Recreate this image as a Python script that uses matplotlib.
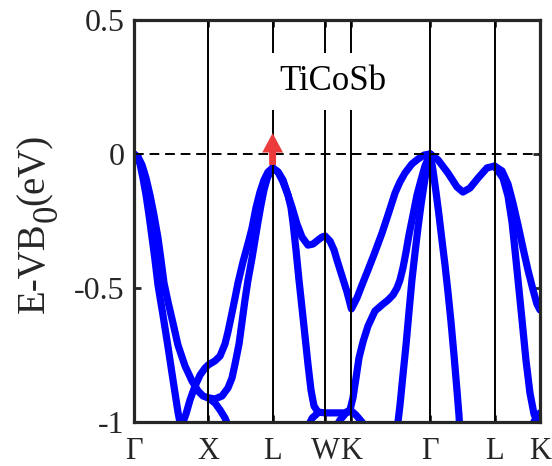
import matplotlib
matplotlib.use("Agg")
import matplotlib.pyplot as plt

plt.rcParams['font.family'] = ['Liberation Serif', 'DejaVu Serif']

# High-symmetry points along the fcc path (path length in units of 2*pi/a)
sym_k = [0.0, 1.0, 1.866, 2.573, 2.927, 3.988, 4.854, 5.466]
sym_labels = ['Γ', 'X', 'L', 'W', 'K', 'Γ', 'L', 'K']

y_ticks = [-1, -0.5, 0, 0.5]
y_ticklabels = ['-1', '-0.5', '0', '0.5']

# Valence bands, energies relative to the VB maximum (eV)
band_a_k = [0, 0.040, 0.081, 0.121, 0.162, 0.202, 0.242, 0.283, 0.323, 0.390,
            0.458, 0.525, 0.592, 0.633, 0.700, 0.754, 0.821, 0.889, 0.956, 1.0,
            1.090, 1.158, 1.225, 1.265, 1.319, 1.360, 1.400, 1.467, 1.548, 1.589,
            1.642, 1.696, 1.750, 1.804, 1.866]
band_a_e = [0, -0.011, -0.037, -0.090, -0.153, -0.228, -0.310, -0.396, -0.489, -0.601,
            -0.720, -0.843, -0.963, -1.022, -0.970, -0.918, -0.866, -0.825, -0.799, -0.787,
            -0.772, -0.754, -0.709, -0.664, -0.593, -0.537, -0.481, -0.403, -0.321, -0.276,
            -0.201, -0.142, -0.097, -0.067, -0.052]

band_b_k = [0, 0.054, 0.108, 0.162, 0.215, 0.269, 0.323, 0.364, 0.404, 0.458,
            0.525, 0.592, 0.687, 0.781, 0.862, 0.929, 1.0, 1.090, 1.185, 1.265,
            1.319, 1.360, 1.414, 1.454, 1.494, 1.535, 1.589, 1.629, 1.669, 1.710,
            1.750, 1.791, 1.831, 1.866]
band_b_e = [0, -0.011, -0.041, -0.090, -0.153, -0.228, -0.313, -0.396, -0.481, -0.552,
            -0.631, -0.713, -0.791, -0.847, -0.884, -0.903, -0.910, -0.914, -0.903, -0.873,
            -0.836, -0.784, -0.709, -0.627, -0.545, -0.470, -0.388, -0.321, -0.254, -0.190,
            -0.134, -0.093, -0.067, -0.052]

band_c_k = [1.0, 1.090, 1.158, 1.225, 1.292]
band_c_e = [-0.910, -0.929, -0.955, -0.985, -1.03]

band_d_k = [1.866, 1.939, 2.006, 2.060, 2.127, 2.194, 2.262, 2.342, 2.410, 2.477,
            2.531, 2.573, 2.639, 2.693, 2.733, 2.800, 2.868, 2.927, 3.002, 3.069,
            3.150, 3.244, 3.339, 3.433, 3.514, 3.581, 3.648, 3.742, 3.823, 3.904,
            3.988, 4.093, 4.227, 4.348, 4.429, 4.523, 4.631, 4.752, 4.854, 4.954,
            5.035, 5.102, 5.170, 5.237, 5.304, 5.372, 5.425, 5.466]
band_d_e = [-0.052, -0.067, -0.097, -0.142, -0.198, -0.261, -0.310, -0.340, -0.336, -0.321,
            -0.310, -0.306, -0.325, -0.358, -0.396, -0.455, -0.515, -0.578, -0.537, -0.489,
            -0.433, -0.366, -0.295, -0.216, -0.146, -0.104, -0.071, -0.037, -0.019, -0.004,
            0.0, -0.022, -0.071, -0.123, -0.142, -0.127, -0.090, -0.052, -0.045, -0.063,
            -0.112, -0.183, -0.265, -0.351, -0.433, -0.507, -0.560, -0.582]

band_e_k = [1.866, 1.939, 2.006, 2.073, 2.114, 2.141, 2.181, 2.221, 2.262, 2.302,
            2.342, 2.383, 2.423, 2.477, 2.573, 2.706, 2.841, 2.908, 2.948, 2.989,
            3.029, 3.083, 3.150, 3.244, 3.339, 3.420, 3.487, 3.541, 3.581, 3.621,
            3.662, 3.702, 3.756, 3.810, 3.864, 3.917, 3.988]
band_e_e = [-0.052, -0.067, -0.104, -0.153, -0.201, -0.257, -0.358, -0.470, -0.575, -0.679,
            -0.784, -0.881, -0.940, -0.963, -0.966, -0.966, -0.966, -0.955, -0.910, -0.836,
            -0.761, -0.701, -0.642, -0.586, -0.563, -0.545, -0.526, -0.500, -0.470, -0.425,
            -0.366, -0.302, -0.228, -0.153, -0.097, -0.045, 0.0]

band_f_k = [3.541, 3.554, 3.581, 3.621, 3.662, 3.702, 3.742, 3.783, 3.823, 3.864,
            3.904, 3.944, 3.988]
band_f_e = [-1.037, -1.0, -0.937, -0.825, -0.713, -0.590, -0.470, -0.369, -0.276, -0.190,
            -0.116, -0.049, 0.0]

band_g_k = [3.988, 4.025, 4.066, 4.106, 4.146, 4.187, 4.227, 4.268, 4.308, 4.348,
            4.375, 4.389]
band_g_e = [0.0, -0.060, -0.142, -0.228, -0.321, -0.414, -0.515, -0.627, -0.750, -0.881,
            -0.974, -1.037]

band_h_k = [4.854, 4.968, 5.035, 5.089, 5.129, 5.170, 5.224, 5.277, 5.331, 5.385,
            5.439, 5.466]
band_h_e = [-0.045, -0.090, -0.157, -0.254, -0.358, -0.470, -0.619, -0.769, -0.892, -0.970,
            -1.007, -1.022]

band_i_k = [5.318, 5.398, 5.466]
band_i_e = [-1.03, -0.993, -0.966]

band_j_k = [2.316, 2.400, 2.477]
band_j_e = [-1.03, -0.985, -0.966]

band_l_k = [2.693, 2.773, 2.854, 2.927, 2.989, 3.069, 3.123]
band_l_e = [-1.030, -0.993, -0.966, -0.959, -0.974, -1.0, -1.022]

bands = [(band_a_k, band_a_e), (band_b_k, band_b_e), (band_c_k, band_c_e),
         (band_d_k, band_d_e), (band_e_k, band_e_e), (band_f_k, band_f_e),
         (band_g_k, band_g_e), (band_h_k, band_h_e), (band_i_k, band_i_e),
         (band_j_k, band_j_e), (band_l_k, band_l_e)]

# Arrow marking the band maximum at L
arrow_k = 1.866
arrow_tail = -0.041
arrow_tip = 0.078

title_text = 'TiCoSb'
title_k = 2.679
title_e = 0.27

ylabel_main = 'E-VB'
ylabel_sub = '0'
ylabel_tail = '(eV)'

W, H = 552, 466
fig = plt.figure(figsize=(W / 100, H / 100), dpi=100)
ax = fig.add_axes([134 / W, 44 / H, 406 / W, 402 / H])

for k, e in bands:
    ax.plot(k, e, color='#0000ff', lw=5.2, solid_joinstyle='round',
            solid_capstyle='round', zorder=2)

for kk in sym_k[1:-1]:
    ax.axvline(kk, color='black', lw=1.4, zorder=3)
ax.axhline(0, color='black', lw=1.4, ls=(0, (5, 3)), zorder=3)

ax.annotate('', xy=(arrow_k, arrow_tip), xytext=(arrow_k, arrow_tail),
            arrowprops=dict(width=5, headwidth=15, headlength=14, shrink=0,
                            facecolor='#ec3b3b', edgecolor='none'),
            zorder=4)

ax.text(title_k, title_e, title_text, fontsize=25, ha='center', va='center',
        color='black', zorder=5,
        bbox=dict(facecolor='white', edgecolor='none', boxstyle='square,pad=0.35'))

ax.set_xlim(sym_k[0], sym_k[-1])
ax.set_ylim(-1, 0.5)
ax.set_xticks(sym_k)
ax.set_xticklabels(sym_labels)
ax.set_yticks(y_ticks)
ax.set_yticklabels(y_ticklabels)
ax.tick_params(direction='in', length=5, width=2, top=True, right=True,
               labelsize=23, colors='#262626')
ax.tick_params(axis='x', pad=11, labelsize=22)
ax.tick_params(axis='y', pad=7)
for s in ax.spines.values():
    s.set_linewidth(2.3)
    s.set_color('#262626')
    s.set_zorder(6)

# Rotated y label built from pieces so the subscript sits well below the baseline
fig.canvas.draw()
renderer = fig.canvas.get_renderer()
base_x = 44 / W
lab_style = dict(rotation=90, rotation_mode='anchor', ha='left', va='baseline',
                 color='#262626')
t1 = fig.text(base_x, 1 - 313 / H, ylabel_main, fontsize=28, **lab_style)
bb1 = t1.get_window_extent(renderer)
t2 = fig.text(base_x + 13 / W, bb1.y1 / H, ylabel_sub, fontsize=25, **lab_style)
bb2 = t2.get_window_extent(renderer)
fig.text(base_x, bb2.y1 / H, ylabel_tail, fontsize=28, **lab_style)

fig.savefig('out.png', dpi=100)
